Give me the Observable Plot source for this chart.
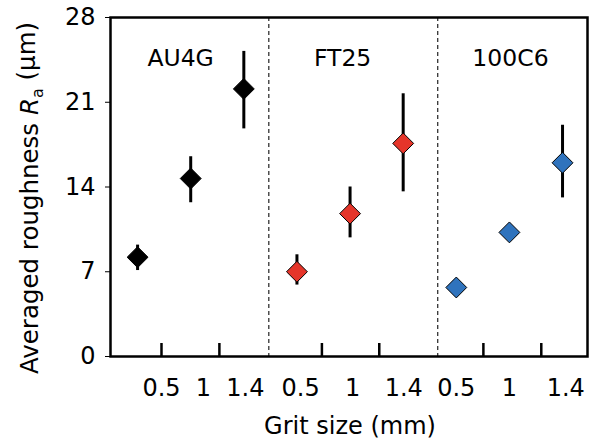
<!DOCTYPE html>
<html>
<head>
<meta charset="utf-8">
<script src="https://cdn.jsdelivr.net/npm/d3@7"></script>
<script src="https://cdn.jsdelivr.net/npm/@observablehq/plot@0.6"></script>
<style>
  body { margin: 0; background: white; }
  svg text { font-family: "DejaVu Sans", "Liberation Sans", Arial, sans-serif; }
</style>
</head>
<body>
<div id="chart"></div>
<script>
// ---- data ----
const materials = ["AU4G", "FT25", "100C6"];
const grits = ["0.5", "1", "1.4"];
const materialColors = ["#000000", "#e5352a", "#2f73bd"];
// averaged roughness Ra (µm), in order AU4G(0.5,1,1.4), FT25(...), 100C6(...)
const raMean = [8.2, 14.7, 22.1, 7.0, 11.8, 17.6, 5.7, 10.25, 16.0];
const raLow  = [7.1, 12.7, 18.8, 5.9, 9.8, 13.6, null, null, 13.1];
const raHigh = [9.2, 16.5, 25.2, 8.4, 14.0, 21.7, null, null, 19.1];
// x positions (in point-index units) of tick labels, tick marks, dividers, panel titles
const tickLabelAt = [0.45, 1.24, 2.03, 3.07, 4.05, 5.01, 6.0, 7.0, 8.06];
const tickMarkAt = [0.45, 1.54, 3.47, 4.55, 6.51, 7.6];
const dividerAt = [2.47, 5.65];
const panelTitleAt = [0.81, 3.86, 7.02];
const yTicks = [0, 7, 14, 21, 28];

const points = raMean.map((v, i) => ({
  i,
  material: materials[Math.floor(i / 3)],
  grit: grits[i % 3],
  color: materialColors[Math.floor(i / 3)],
  ra: v,
  lo: raLow[i],
  hi: raHigh[i]
}));
const bars = points.filter(d => d.lo != null);
const panelRows = materials.map((m, k) => ({x: panelTitleAt[k], label: m}));

const chart = Plot.plot({
  width: 589,
  height: 440,
  marginLeft: 110,
  marginRight: 2,
  marginTop: 17,
  marginBottom: 84,
  style: {fontFamily: "DejaVu Sans, Liberation Sans, Arial, sans-serif", fontSize: "24px", background: "white", color: "black"},
  x: {domain: [-0.51, 8.47]},
  y: {domain: [0, 28]},
  color: {type: "identity"},
  marks: [
    Plot.ruleX(dividerAt, {stroke: "#333", strokeWidth: 1.3, strokeDasharray: "4,3"}),
    Plot.tickX(tickMarkAt, {stroke: "black", strokeWidth: 2.5, insetTop: 326}),
    Plot.ruleX(bars, {x: "i", y1: "lo", y2: "hi", stroke: "black", strokeWidth: 3}),
    Plot.dot(points, {x: "i", y: "ra", symbol: "diamond2", r: 9.4, fill: "color", stroke: "black", strokeWidth: 1}),
    Plot.text(panelRows, {x: "x", text: "label", frameAnchor: "top", dy: 32, fontSize: 23.5}),
    Plot.axisY({ticks: yTicks, tickSize: 5, tickPadding: 10, label: null, fontSize: 24}),
    Plot.axisX(tickLabelAt, {tickSize: 0, tickPadding: 22, label: null, fontSize: 24,
      tickFormat: (d) => grits[tickLabelAt.indexOf(d) % 3]}),
    Plot.frame({stroke: "black", strokeWidth: 2.5})
  ]
});

const svg = d3.select(chart);
svg.append("text")
  .attr("x", 350).attr("y", 434)
  .attr("text-anchor", "middle")
  .style("font-size", "24px")
  .attr("fill", "black")
  .text("Grit size (mm)");

const yt = svg.append("text")
  .attr("transform", "translate(38,198) rotate(-90)")
  .attr("text-anchor", "middle")
  .style("font-size", "24.5px")
  .attr("fill", "black");
yt.append("tspan").text("Averaged roughness ");
yt.append("tspan").attr("font-style", "italic").text("R");
yt.append("tspan").attr("dy", "0.3em").style("font-size", "16px").text("a");
yt.append("tspan").attr("dy", "-0.3em").text(" (μm)");

document.getElementById("chart").appendChild(chart);
</script>
</body>
</html>
